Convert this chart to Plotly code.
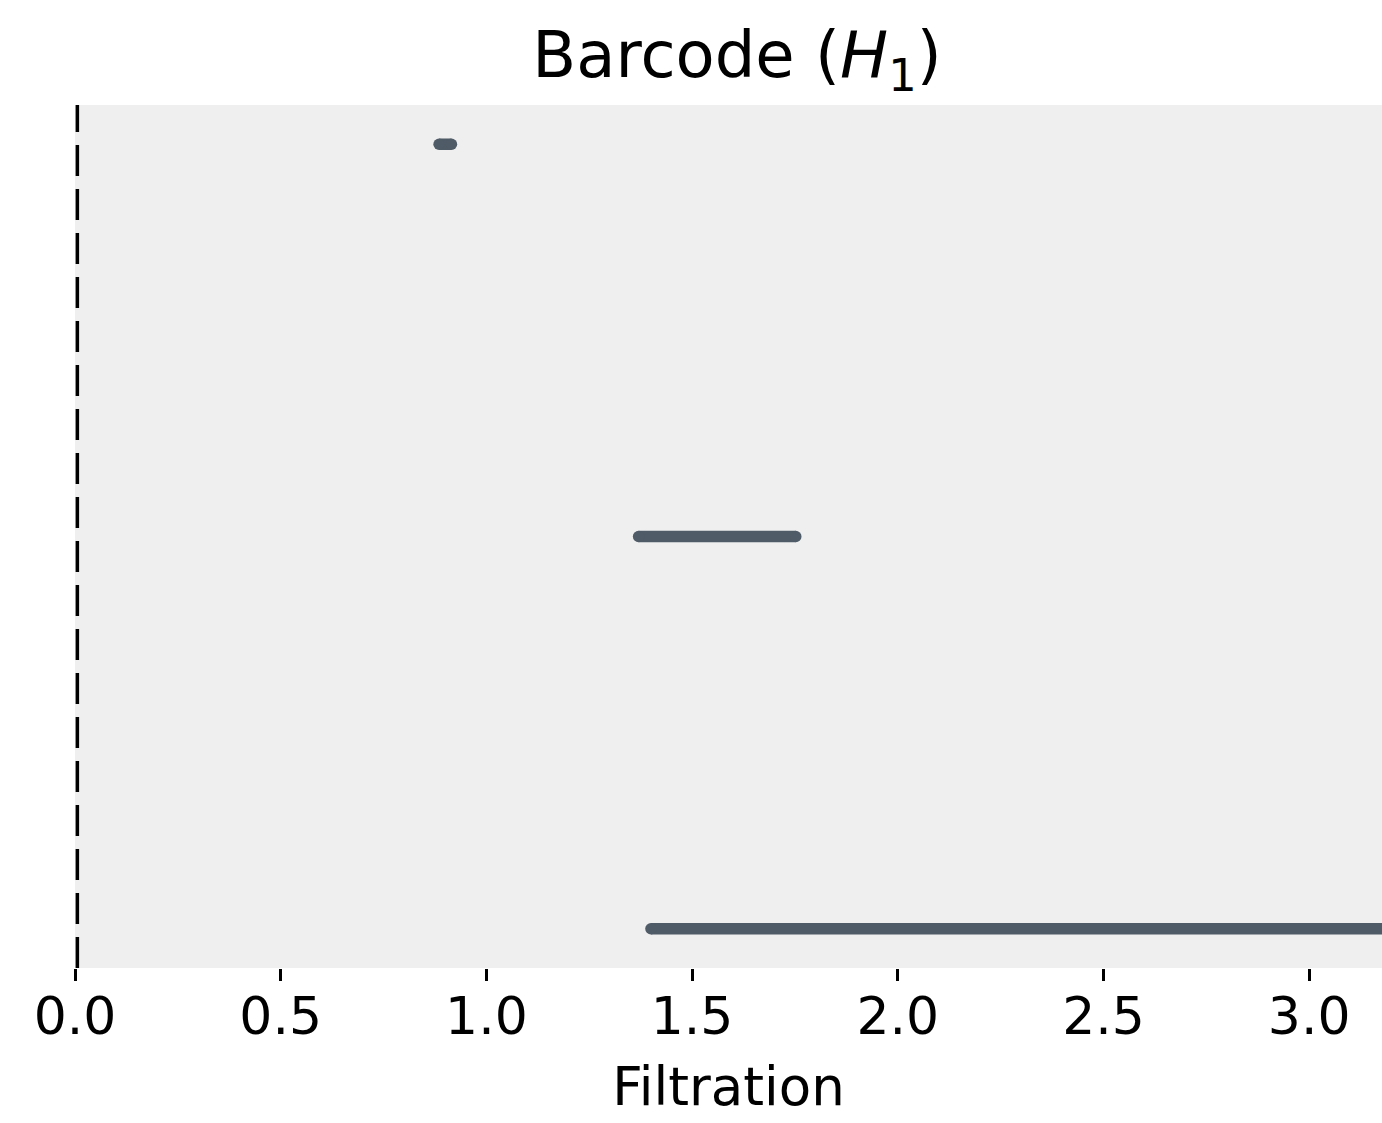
import plotly.graph_objects as go

# Persistence intervals (H1): birth, death (None = infinite), bar index
births = [1.400, 1.370, 0.885]
deaths = [None, 1.752, 0.915]
levels = [0, 1, 2]
x_max = 3.177
inf_death = 3.6  # drawn beyond the visible axis range

tick_vals = [0.0, 0.5, 1.0, 1.5, 2.0, 2.5, 3.0]
tick_text = ["0.0", "0.5", "1.0", "1.5", "2.0", "2.5", "3.0"]

bar_color = "#4f5b66"
lw = 11.5

fig = go.Figure()
for b, d, lv in zip(births, deaths, levels):
    dd = inf_death if d is None else d
    fig.add_trace(go.Scatter(
        x=[b, dd], y=[lv, lv], mode="lines+markers",
        line=dict(color=bar_color, width=lw),
        marker=dict(color=bar_color, size=lw, line=dict(width=0)),
        showlegend=False, hoverinfo="skip",
    ))

fig.add_shape(type="line", xref="paper", yref="paper",
              x0=0.0018, x1=0.0018, y0=0, y1=1,
              line=dict(color="black", width=3.5, dash="31px,13px"))

W, H = 1382, 1123
fig.update_layout(
    width=W, height=H,
    margin=dict(l=75, r=0, t=105, b=155),
    paper_bgcolor="white", plot_bgcolor="#efefef",
    font=dict(family="DejaVu Sans", color="black", size=52),
    title=dict(text="Barcode (<i>H</i><sub>1</sub>)", x=737/W, xanchor="center",
               y=1 - 55/H, yanchor="middle", yref="container",
               font=dict(size=64, family="DejaVu Sans", color="black")),
    xaxis=dict(range=[0, x_max], tickvals=tick_vals, ticktext=tick_text,
               ticks="outside", ticklen=12, tickwidth=3, tickcolor="black",
               showgrid=False, zeroline=False, showline=False,
               tickfont=dict(size=52), ticklabelstandoff=-9,
               title=dict(text="Filtration", font=dict(size=53), standoff=22)),
    yaxis=dict(range=[-0.1, 2.1], showticklabels=False, ticks="",
               showgrid=False, zeroline=False, showline=False),
)

fig.write_html("out.html", config={"displayModeBar": False},
               post_script="document.body.style.margin='0';document.body.style.overflow='hidden';")
